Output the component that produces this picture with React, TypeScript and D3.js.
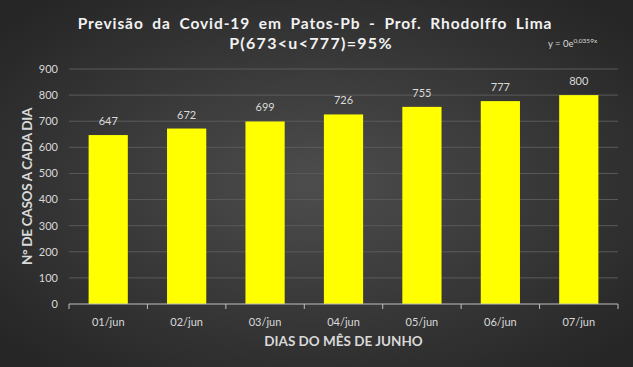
import React from "react";
import * as d3 from "d3";

// dados do gráfico
const days = ["01/jun", "02/jun", "03/jun", "04/jun", "05/jun", "06/jun", "07/jun"];
const cases = [647, 672, 699, 726, 755, 777, 800];
const yTicks = [0, 100, 200, 300, 400, 500, 600, 700, 800, 900];

const W = 633;
const H = 367;
const MARGIN = { LEFT: 69, RIGHT: 15, TOP: 69, BOTTOM: 63 };
const FONT = "Lato, 'Open Sans', sans-serif";

export default function App() {
  const x = d3
    .scaleBand()
    .domain(days)
    .range([MARGIN.LEFT, W - MARGIN.RIGHT])
    .paddingInner(0.5)
    .paddingOuter(0.25);
  const y = d3
    .scaleLinear()
    .domain([0, 900])
    .range([H - MARGIN.BOTTOM, MARGIN.TOP]);

  const step = (W - MARGIN.RIGHT - MARGIN.LEFT) / days.length;
  const bounds = d3.range(days.length + 1).map(i => MARGIN.LEFT + i * step);
  const base = y(0);
  const midX = (MARGIN.LEFT + W - MARGIN.RIGHT) / 2;

  return (
    <svg width={W} height={H} style={{ position: "absolute", left: 0, top: 0 }} fontFamily={FONT}>
      <defs>
        <radialGradient id="bg" cx="50%" cy="50%" r="65%">
          <stop offset="0%" stopColor="#4d4d4d" />
          <stop offset="100%" stopColor="#262626" />
        </radialGradient>
      </defs>
      <rect width={W} height={H} fill="url(#bg)" />

      {/* título */}
      <text x={315} y={29} textAnchor="middle" fill="#f2f2f2" fontSize={15.5} fontWeight="bold" letterSpacing={0.9} wordSpacing={4}>
        Previsão da Covid-19 em Patos-Pb - Prof. Rhodolffo Lima
      </text>
      <text x={311} y={49} textAnchor="middle" fill="#f2f2f2" fontSize={16} fontWeight="bold" letterSpacing={1.3}>
        P(673&lt;u&lt;777)=95%
      </text>
      <text x={548} y={47} fill="#d9d9d9" fontSize={9.5}>
        y = 0e<tspan dy={-4} fontSize={6.5}>0,0359x</tspan>
      </text>

      {/* grade */}
      {yTicks.map(t => (
        <g key={t}>
          {t > 0 && (
            <line x1={MARGIN.LEFT} x2={W - MARGIN.RIGHT} y1={y(t)} y2={y(t)} stroke="#5a5a5a" strokeWidth={1} />
          )}
          <text x={58} y={y(t)} dy="0.35em" textAnchor="end" fill="#d9d9d9" fontSize={11}>
            {t}
          </text>
        </g>
      ))}

      {/* barras */}
      {days.map((d, i) => (
        <g key={d}>
          <rect x={x(d)} y={y(cases[i])} width={x.bandwidth()} height={base - y(cases[i])} fill="#ffff00" />
          <text x={(x(d) ?? 0) + x.bandwidth() / 2} y={y(cases[i]) - 10} textAnchor="middle" fill="#d9d9d9" fontSize={11}>
            {cases[i]}
          </text>
          <text x={(x(d) ?? 0) + x.bandwidth() / 2} y={base + 18} dy="0.35em" textAnchor="middle" fill="#d9d9d9" fontSize={11}>
            {d}
          </text>
        </g>
      ))}

      {/* eixo x */}
      <line x1={MARGIN.LEFT} x2={W - MARGIN.RIGHT} y1={base} y2={base} stroke="#bfbfbf" />
      {bounds.map((b, i) => (
        <line key={i} x1={b} x2={b} y1={base} y2={base + 5} stroke="#bfbfbf" />
      ))}

      {/* rótulos dos eixos */}
      <text x={midX} y={346} textAnchor="middle" fill="#d9d9d9" fontSize={13.5} fontWeight="bold">
        DIAS DO MÊS DE JUNHO
      </text>
      <text
        transform={`translate(27.5, ${(MARGIN.TOP + base) / 2}) rotate(-90)`}
        dy="0.35em"
        textAnchor="middle"
        fill="#d9d9d9"
        fontSize={13.5}
        fontWeight="bold"
        letterSpacing={-0.3}
      >
        N° DE CASOS A CADA DIA
      </text>
    </svg>
  );
}
